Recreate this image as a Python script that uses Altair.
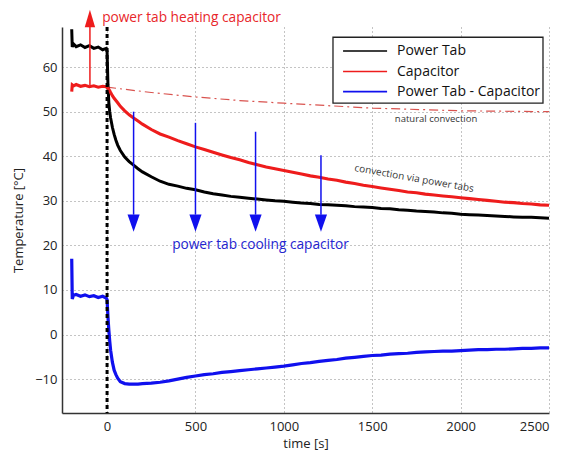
import altair as alt
import pandas as pd

# ---------------- data ----------------
time_s = [-200, -197, -190, -175, -150, -125, -100, -75, -50, -25, -5, 0,
          5, 10, 15, 20, 30, 40, 50, 60, 75, 100, 125, 150, 175, 200,
          250, 300, 350, 400, 450, 500, 550, 600, 650, 700, 750, 800, 850, 900, 950, 1000,
          1050, 1100, 1150, 1200, 1250, 1300, 1350, 1400, 1450, 1500,
          1550, 1600, 1650, 1700, 1750, 1800, 1850, 1900, 1950, 2000,
          2050, 2100, 2150, 2200, 2250, 2300, 2350, 2400, 2450, 2500]

power_tab = [68.5, 64.5, 65.2, 64.6, 65.0, 64.4, 64.8, 64.2, 64.5, 63.9, 64.2, 63.5,
             56.0, 52.0, 50.0, 48.6, 46.5, 44.9, 43.6, 42.5, 41.3, 39.8, 38.8, 38.0, 37.2, 36.5,
             35.4, 34.4, 33.7, 33.3, 32.8, 32.5, 32.0, 31.6, 31.3, 31.0, 30.8, 30.6, 30.4, 30.2, 30.0, 29.9,
             29.7, 29.5, 29.4, 29.2, 29.1, 29.0, 28.9, 28.7, 28.6, 28.5,
             28.3, 28.2, 28.0, 27.9, 27.7, 27.6, 27.5, 27.3, 27.2, 27.0,
             26.9, 26.8, 26.7, 26.6, 26.5, 26.4, 26.3, 26.3, 26.2, 26.1]

capacitor = [54.5, 56.0, 55.8, 56.1, 55.7, 55.9, 55.6, 55.8, 55.5, 55.7, 55.6, 55.4,
             55.3, 55.0, 54.7, 54.3, 53.6, 53.0, 52.5, 52.0, 51.2, 50.2, 49.3, 48.6, 47.9, 47.2,
             46.0, 45.0, 44.3, 43.5, 42.8, 42.1, 41.5, 40.9, 40.3, 39.7, 39.2, 38.6, 38.1, 37.6, 37.2, 36.8,
             36.4, 36.0, 35.6, 35.3, 34.9, 34.6, 34.2, 33.9, 33.5, 33.2,
             32.9, 32.6, 32.3, 32.0, 31.8, 31.5, 31.3, 31.1, 30.9, 30.7,
             30.5, 30.3, 30.1, 29.9, 29.7, 29.6, 29.4, 29.3, 29.1, 29.0]

difference = [17.0, 8.0, 8.8, 9.0, 8.6, 8.9, 8.5, 8.7, 8.3, 8.6, 8.2, 7.8,
              4.0, 1.0, -1.5, -3.5, -6.2, -8.0, -9.0, -9.8, -10.6, -11.0, -11.1, -11.1, -11.1, -11.0,
              -10.9, -10.7, -10.4, -10.0, -9.6, -9.3, -9.0, -8.8, -8.5, -8.3, -8.1, -7.9, -7.7, -7.5, -7.3, -7.1,
              -6.8, -6.5, -6.3, -6.0, -5.8, -5.6, -5.3, -5.1, -4.9, -4.7,
              -4.6, -4.4, -4.3, -4.2, -4.0, -3.9, -3.8, -3.7, -3.7, -3.6,
              -3.5, -3.4, -3.4, -3.3, -3.3, -3.2, -3.1, -3.1, -3.0, -3.0]

series_names = ["Power Tab", "Capacitor", " Power Tab - Capacitor"]
series_colors = ["#000000", "#ee1c1c", "#1010ee"]

# natural convection reference curve
natural_t = [0, 250, 500, 750, 1000, 1500, 2000, 2500]
natural_v = [55.5, 54.3, 53.3, 52.5, 51.9, 50.8, 50.2, 50.0]

# blue cooling arrows
cool_t = [150, 500, 840, 1210]
cool_top = [50.0, 47.5, 45.5, 40.2]
cool_base = [26.9, 26.9, 26.9, 26.9]
cool_head = [25.0, 25.0, 25.0, 25.0]

# red heating arrow
heat_t = [-97]
heat_bottom = [56.0]
heat_top = [69.2]
heat_head = [70.9]

x_ticks = [0, 500, 1000, 1500, 2000, 2500]
y_ticks = [-10, 0, 10, 20, 30, 40, 50, 60]

# legend box (in data units)
legend_box_t = [1278, 2466]
legend_box_v = [66.7, 51.9]
legend_row_v = [63.6, 59.0, 54.5]
legend_sym_t = [1335, 1584]
legend_label_t = 1640

# ---------------- build tables ----------------
rows = []
for name, vals in zip(series_names, [power_tab, capacitor, difference]):
    for t, v in zip(time_s, vals):
        rows.append({"t": t, "v": v, "series": name})
df = pd.DataFrame(rows)

x_scale = alt.Scale(domain=[-255, 2500], nice=False, zero=False)
y_scale = alt.Scale(domain=[-17.6, 69], nice=False, zero=False)
x_axis = alt.Axis(values=x_ticks, title="time [s]", grid=True, tickSize=0, labelPadding=7,
                  titlePadding=4, format="d")
y_axis = alt.Axis(values=y_ticks, title="Temperature [°C]", grid=True, tickSize=0, labelPadding=5,
                  titlePadding=9)
X = alt.X("t:Q", scale=x_scale, axis=x_axis)
X2 = alt.X2("t2:Q")
Y = alt.Y("v:Q", scale=y_scale, axis=y_axis)
color_scale = alt.Scale(domain=series_names, range=series_colors)

natural = alt.Chart(pd.DataFrame({"t": natural_t, "v": natural_v})).mark_line(
    color="#d9534f", strokeWidth=1.2, strokeDash=[9, 4, 2, 4]
).encode(x=X, y=Y)

lines = alt.Chart(df).mark_line().encode(
    x=X, y=Y,
    color=alt.Color("series:N", scale=color_scale, legend=None),
    strokeWidth=alt.StrokeWidth("series:N",
                                scale=alt.Scale(domain=series_names, range=[3.0, 3.2, 3.8]),
                                legend=None),
    order=alt.Order("t:Q"),
)

zero_line = alt.Chart(pd.DataFrame({"t": [0]})).mark_rule(
    color="black", strokeWidth=3, strokeDash=[4, 3]
).encode(x=X)

cool_df = pd.DataFrame({"t": cool_t, "v": cool_top, "v2": cool_base, "h": cool_head})
cool_rules = alt.Chart(cool_df).mark_rule(color="#1010ee", strokeWidth=1.5).encode(
    x=X, y=Y, y2="v2:Q")
cool_heads = alt.Chart(cool_df).mark_point(
    shape="M-0.7,-1L0.7,-1L0,1Z", filled=True, opacity=1, color="#1010ee", size=300
).encode(x=X, y=alt.Y("h:Q", scale=y_scale, axis=y_axis))

heat_df = pd.DataFrame({"t": heat_t, "v": heat_bottom, "v2": heat_top, "h": heat_head})
heat_rule = alt.Chart(heat_df).mark_rule(color="#ee1c1c", strokeWidth=1.5).encode(
    x=X, y=Y, y2="v2:Q")
heat_head_mark = alt.Chart(heat_df).mark_point(
    shape="M-0.6,1L0.6,1L0,-1Z", filled=True, opacity=1, color="#ee1c1c", size=300
).encode(x=X, y=alt.Y("h:Q", scale=y_scale, axis=y_axis))

label_texts = ["power tab heating capacitor", "power tab cooling capacitor"]
label_t = [-28, 368]
label_v = [71.0, 20.0]
label_colors = ["#e8262a", "#2525d0"]
labels = alt.Chart(pd.DataFrame({"t": label_t, "v": label_v, "txt": label_texts, "c": label_colors})).mark_text(
    align="left", baseline="middle", font="Open Sans", fontSize=13.7
).encode(x=X, y=Y, text="txt:N", color=alt.Color("c:N", scale=None))

nat_label = alt.Chart(pd.DataFrame({"t": [1861], "v": [48.4], "txt": ["natural convection"]})).mark_text(
    align="center", baseline="middle", font="Open Sans", fontSize=9.5, color="#333"
).encode(x=X, y=Y, text="txt:N")

conv_label = alt.Chart(pd.DataFrame({"t": [1737], "v": [35.0], "txt": ["convection via power tabs"]})).mark_text(
    align="center", baseline="middle", font="Open Sans", fontSize=10, color="#333", angle=10
).encode(x=X, y=Y, text="txt:N")

# ---- hand-drawn legend (MATLAB style box) ----
leg_box = alt.Chart(pd.DataFrame({"t": [legend_box_t[0]], "t2": [legend_box_t[1]],
                                  "v": [legend_box_v[0]], "v2": [legend_box_v[1]]})).mark_rect(
    fill="white", stroke="#222", strokeWidth=1.3
).encode(x=X, x2=X2, y=Y, y2="v2:Q")
leg_df = pd.DataFrame({"t": [legend_sym_t[0]] * 3, "t2": [legend_sym_t[1]] * 3,
                       "v": legend_row_v, "series": series_names,
                       "tl": [legend_label_t] * 3})
leg_sym = alt.Chart(leg_df).mark_rule(strokeWidth=1.6).encode(
    x=X, x2=X2, y=Y, color=alt.Color("series:N", scale=color_scale, legend=None))
leg_txt = alt.Chart(leg_df).mark_text(
    align="left", baseline="middle", font="Open Sans", fontSize=14, color="#111"
).encode(x=alt.X("tl:Q", scale=x_scale, axis=x_axis), y=Y, text="series:N")

chart = alt.layer(
    natural, lines, zero_line, cool_rules, cool_heads, heat_rule, heat_head_mark,
    labels, nat_label, conv_label, leg_box, leg_sym, leg_txt
).properties(
    width=487, height=386,
    padding={"left": 54, "top": 19, "right": 18, "bottom": 38},
    autosize=alt.AutoSizeParams(type="none"),
).configure_view(stroke=None).configure_axis(
    domainColor="#333", domainWidth=1.5, gridColor="#888", gridDash=[1, 3], gridWidth=1,
    labelFont="Open Sans", labelFontSize=13, labelColor="#222",
    titleFont="Open Sans", titleFontSize=13, titleFontWeight="normal", titleColor="#222",
)

chart.save("out.html", embed_options={"renderer": "svg", "actions": False})
